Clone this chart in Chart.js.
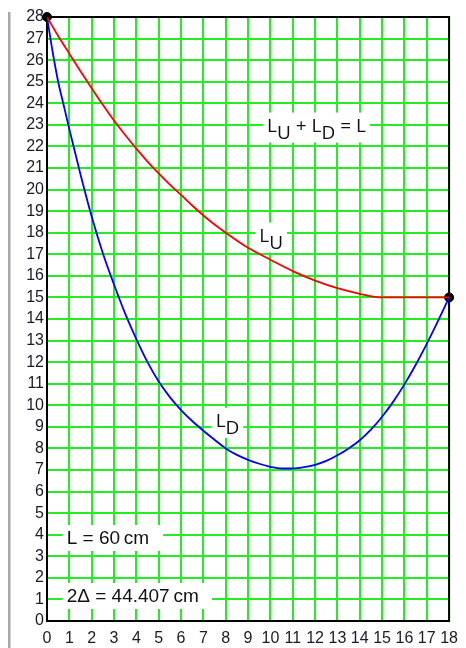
<!DOCTYPE html>
<html><head><meta charset="utf-8">
<script src="https://cdn.jsdelivr.net/npm/chart.js@4"></script>
<style>html,body{margin:0;padding:0;background:#fff;overflow:hidden}
#wrap{position:relative;width:466px;height:648px}</style>
</head><body><div id="wrap"><canvas id="c" width="466" height="648"></canvas></div>
<script>
// ---- data ----
const xTickValues = [0,1,2,3,4,5,6,7,8,9,10,11,12,13,14,15,16,17,18];
const yTickValues = [0,1,2,3,4,5,6,7,8,9,10,11,12,13,14,15,16,17,18,19,20,21,22,23,24,25,26,27,28];
const upperX = [0,0.5,1,1.5,2,2.5,3,3.5,4,4.5,5,5.5,6,6.5,7,7.5,8,9,10,11,12,13,14,15,16,17,18];
const upperY = [28,27.12,26.3,25.48,24.7,23.93,23.2,22.53,21.9,21.3,20.75,20.23,19.75,19.26,18.8,18.38,18.0,17.3,16.75,16.22,15.78,15.43,15.17,15.0,15,15,15];
const lowerX = [0,0.25,0.5,0.75,1,1.5,2,2.5,3,3.5,4,4.5,5,5.5,6,6.5,7,7.5,8,8.5,9,9.5,10,10.5,11,11.5,12,12.5,13,13.5,14,14.5,15,15.5,16,16.5,17,17.5,18];
const lowerY = [28,26.4,25,23.9,22.8,20.7,18.75,17.05,15.6,14.25,13.07,12.0,11.1,10.38,9.78,9.27,8.82,8.4,8.0,7.7,7.47,7.29,7.15,7.07,7.07,7.13,7.24,7.42,7.68,8.0,8.38,8.87,9.47,10.17,10.97,11.87,12.85,13.9,15];
const endX = [0,18];
const endY = [28,15];
const notes = [
  {parts:[['L',0],['U',1],[' + L',0],['D',1],[' = L',0]], font:'Open Sans', at:[9.85,22.69]},
  {parts:[['L',0],['U',1]], font:'Open Sans', at:[9.5,17.59]},
  {parts:[['L',0],['D',1]], font:'Open Sans', at:[7.55,9.0]},
  {parts:[['L = 60\u2009cm',0]], font:'Liberation Sans', at:[0.88,3.57], padR:14},
  {parts:[['2\u0394 = 44.407\u2009cm',0]], font:'Liberation Sans', at:[0.88,0.88], padR:13}
];

const toPts = (xs, ys) => xs.map((x,i)=>({x, y: ys[i]}));

const decor = {
  id:'decor',
  beforeDraw(chart){
    const ctx = chart.ctx;
    ctx.save();
    ctx.fillStyle = '#a8a8a8';
    ctx.fillRect(8, 12, 2.5, 648);
    ctx.restore();
  },
  beforeDatasetsDraw(chart){
    const ctx = chart.ctx, xs = chart.scales.x, ys = chart.scales.y;
    ctx.save();
    notes.forEach(n=>{
      const size = 19;
      ctx.font = size + 'px "' + n.font + '"';
      let w = 0;
      n.parts.forEach(p=>{ w += ctx.measureText(p[0]).width; });
      const x0 = xs.getPixelForValue(n.at[0]);
      const by = ys.getPixelForValue(n.at[1]);
      const hasSub = n.parts.some(p=>p[1]);
      ctx.fillStyle = '#fff';
      ctx.fillRect(x0 - 4, by - 19, w + 4 + (n.padR || 4), hasSub ? 30 : 26);
      ctx.fillStyle = '#111';
      ctx.textBaseline = 'alphabetic';
      ctx.textAlign = 'left';
      let cx = x0;
      n.parts.forEach(p=>{
        ctx.fillText(p[0], cx, by + (p[1] ? 7 : 0));
        cx += ctx.measureText(p[0]).width;
      });
    });
    const a = chart.chartArea;
    ctx.strokeStyle = '#000';
    ctx.lineWidth = 2;
    ctx.strokeRect(a.left, a.top, a.right - a.left, a.bottom - a.top);
    ctx.restore();
  }
};

new Chart(document.getElementById('c'), {
  type:'line',
  data:{
    datasets:[
      {label:'LU', data: toPts(upperX, upperY), borderColor:'#ff0000', borderWidth:1.8, pointRadius:0, cubicInterpolationMode:'monotone', fill:false},
      {label:'LD', data: toPts(lowerX, lowerY), borderColor:'#0000ff', borderWidth:1.8, pointRadius:0, cubicInterpolationMode:'monotone', fill:false},
      {label:'ends', data: toPts(endX, endY), showLine:false, pointRadius:4.5, pointBackgroundColor:'#000', pointBorderColor:'#000', clip:false}
    ]
  },
  options:{
    responsive:false, animation:false,
    layout:{padding:{left:0, top:17, right:11, bottom:0}},
    plugins:{legend:{display:false}, tooltip:{enabled:false}},
    scales:{
      x:{type:'linear', min:0, max:18,
        afterBuildTicks(s){ s.ticks = xTickValues.map(v=>({value:v})); },
        afterFit(s){ s.height = 27; },
        grid:{color:'#22ee22', lineWidth:2, drawTicks:false},
        border:{display:false},
        ticks:{autoSkip:false, maxRotation:0, padding:8, color:'#1a1a2a', font:{family:'Liberation Sans', size:16}}
      },
      y:{type:'linear', min:0, max:28,
        afterBuildTicks(s){ s.ticks = yTickValues.map(v=>({value:v})); },
        afterFit(s){ s.width = 47; },
        grid:{color:'#22ee22', lineWidth:2, drawTicks:false},
        border:{display:false},
        ticks:{autoSkip:false, padding:3, color:'#1a1a2a', font:{family:'Liberation Sans', size:16}}
      }
    }
  },
  plugins:[decor]
});
</script></body></html>
